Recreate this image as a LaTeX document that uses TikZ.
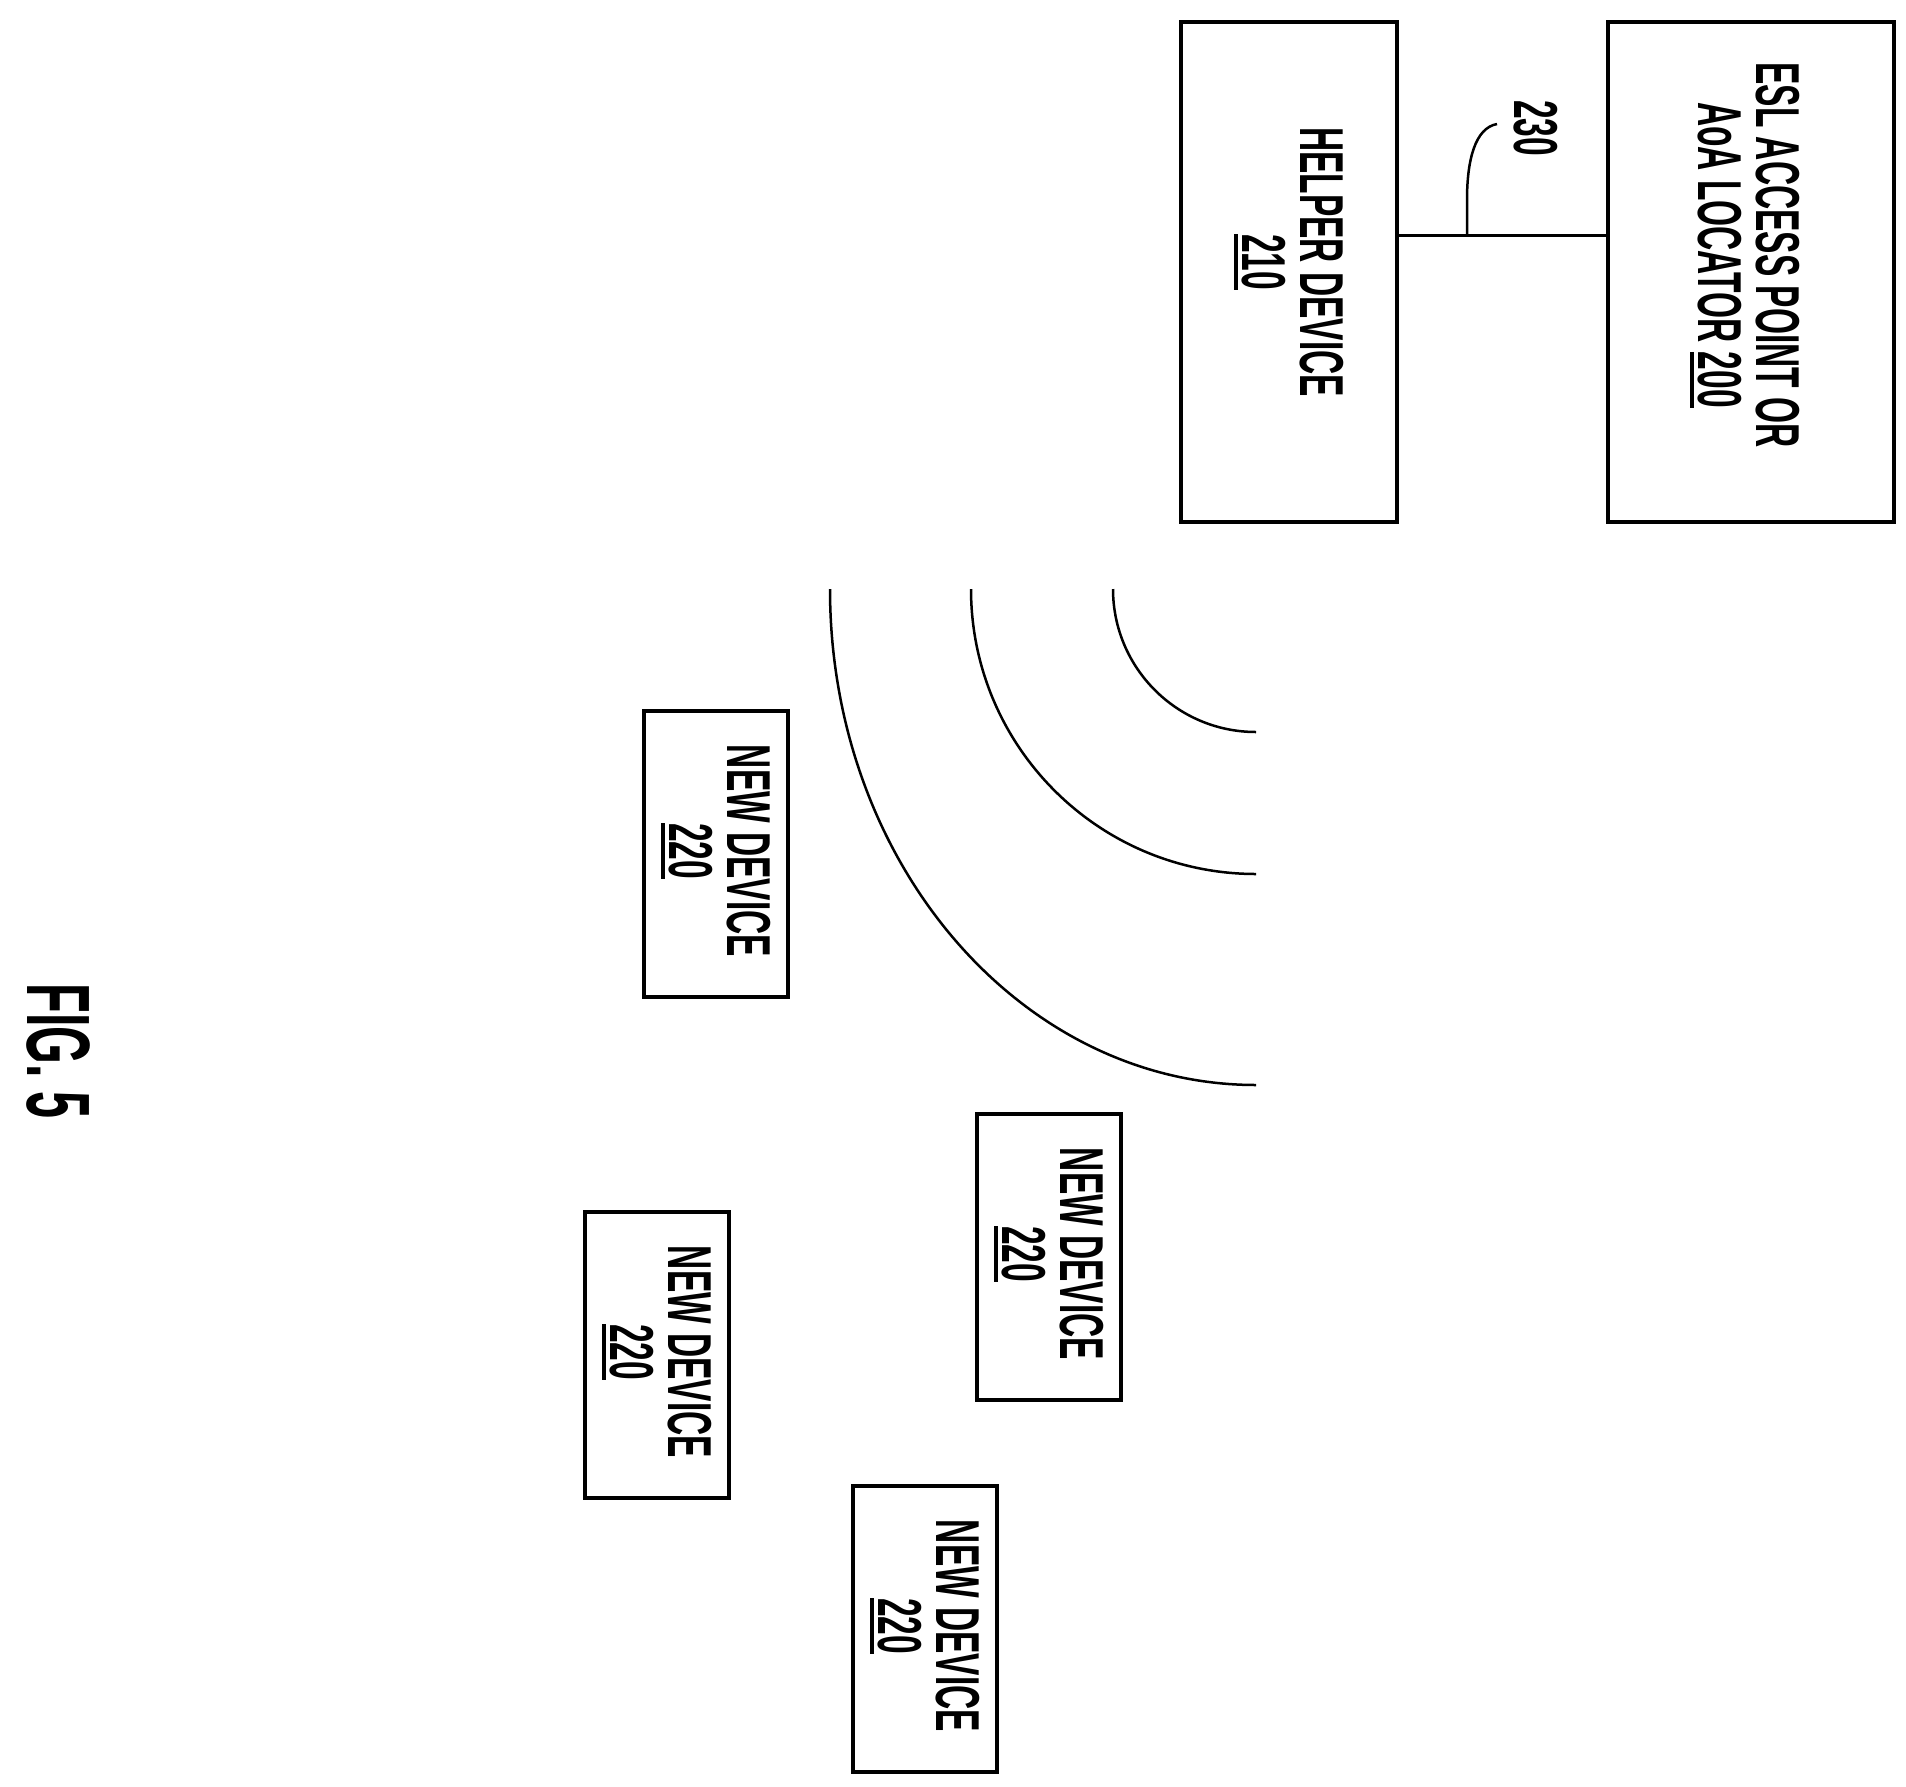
\documentclass[tikz,border=0pt]{standalone}
\usepackage{fontspec}
\setmainfont{Liberation Sans}[FakeStretch=0.54,BoldFont={* Bold},BoldFeatures={FakeStretch=0.54}]
\newcommand\ulnum[1]{\leavevmode\vtop{\hbox{#1}\kern4pt\hrule height 4pt}}
\begin{document}
\begin{tikzpicture}[x=1pt,y=-1pt,
  lbl/.style={rotate=-90,align=center,font=\bfseries\fontsize{62}{58}\selectfont},
  wave/.style={line width=2.5pt}]
\useasboundingbox (0,0) rectangle (1906,1786);
% boxes
\draw[line width=4pt] (1181,22) rectangle (1397,522);
\draw[line width=4pt] (1608,22) rectangle (1894,522);
\node[lbl] (helper) at (1289,262) {HELPER DEVICE\\\ulnum{210}};
\node[lbl] (esl) at (1745,255) {ESL ACCESS POINT OR\\AoA LOCATOR \ulnum{200}};
\coordinate (hr) at (1397,235);
\coordinate (el) at (1608,235);
\draw[line width=3pt] (hr) -- (el);
\coordinate (j) at (1467,235);
\node[lbl] (n230) at (1536,128) {230};
\draw[line width=2.5pt] (j) -- (1467,200) .. controls (1467,160) and (1475,128) .. (1497,124);
% waves
\coordinate (c) at (1256,589);
\draw[wave] (1113,589) arc[start angle=180,end angle=90,radius=143];
\draw[wave] (971,589) arc[start angle=180,end angle=90,radius=285];
\draw[wave] (830,589) arc[start angle=180,end angle=90,x radius=426,y radius=496];
% new devices
\foreach \n/\x/\y in {a/644/711, b/977/1114, c/585/1212, d/853/1486}{
  \draw[line width=4pt] (\x,\y) rectangle ++(144,286);
  \node[lbl] (nd\n) at ([shift={(72,140)}]\x,\y) {NEW DEVICE\\\ulnum{220}};
}
\node[rotate=-90,font=\bfseries\fontsize{90}{90}\selectfont] (fig) at (58,1051) {FIG. 5};
\end{tikzpicture}
\end{document}
